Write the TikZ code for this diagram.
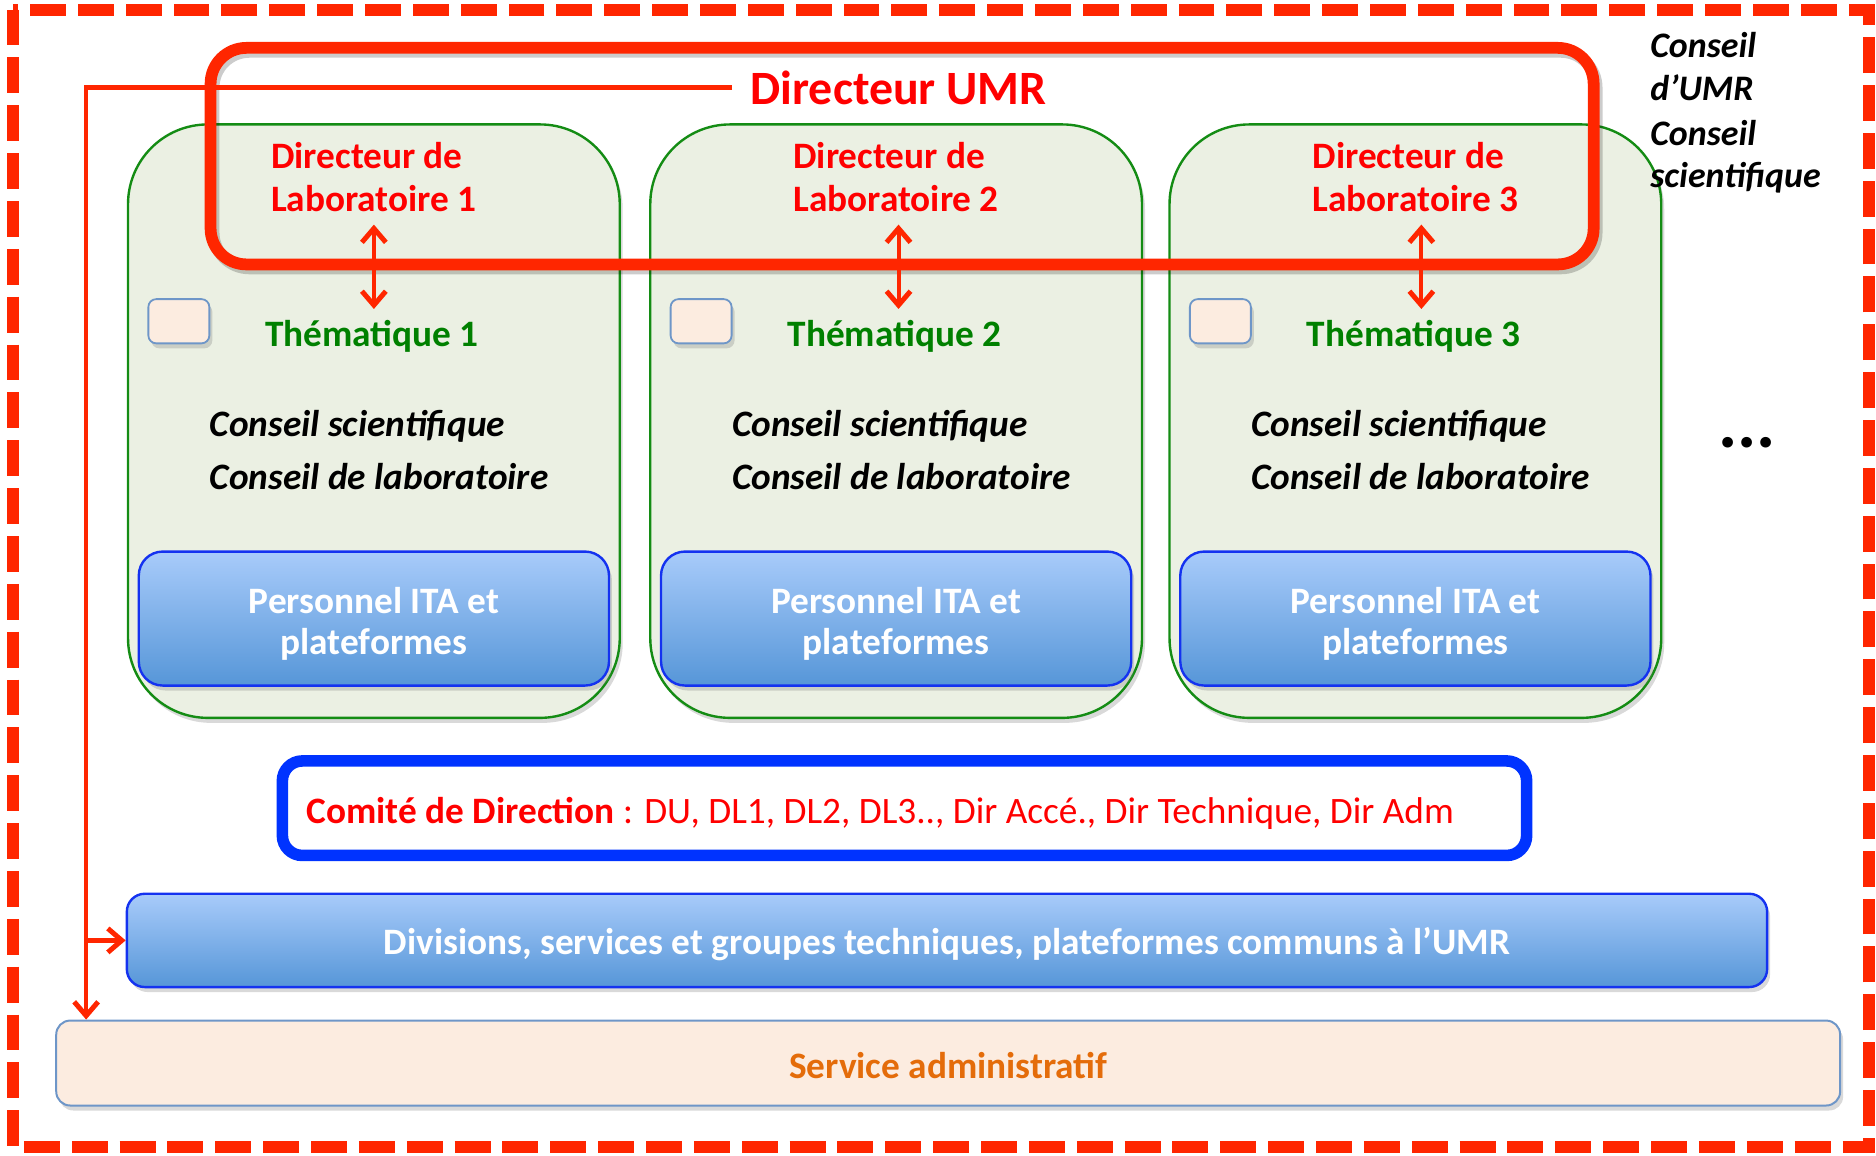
\documentclass[tikz,border=0pt]{standalone}
\usepackage{fontspec}
\setmainfont{Carlito}
\usetikzlibrary{arrows.meta,shadows}
\definecolor{dred}{RGB}{255,38,0}
\definecolor{tred}{RGB}{255,0,0}
\definecolor{tgreen}{RGB}{0,128,0}
\definecolor{gborder}{RGB}{20,140,20}
\definecolor{gfill}{RGB}{235,240,227}
\definecolor{btop}{RGB}{168,203,250}
\definecolor{bbot}{RGB}{86,150,216}
\definecolor{bborder}{RGB}{20,50,240}
\definecolor{cblue}{RGB}{0,51,255}
\definecolor{peach}{RGB}{252,236,224}
\definecolor{pborder}{RGB}{110,150,200}
\definecolor{orangetxt}{RGB}{228,108,10}
\tikzset{
  shad/.style={drop shadow={shadow xshift=1.5pt,shadow yshift=-2.5pt,opacity=0.3}},
  mainfont/.style={font=\bfseries\fontsize{18.7}{22}\selectfont},
  labbox/.style={draw=gborder,line width=1.2pt,fill=gfill,rounded corners=40pt,
    minimum width=246.6pt,minimum height=297.6pt,shad},
  smallsq/.style={draw=pborder,line width=0.9pt,fill=peach,rounded corners=4pt,
    minimum width=30.6pt,minimum height=22.2pt,shad},
  bluebox/.style={draw=bborder,line width=1.2pt,top color=btop,bottom color=bbot,
    text=white,mainfont,align=center,shad},
  itabox/.style={bluebox,rounded corners=12pt,minimum width=235.8pt,minimum height=67.2pt},
  itatext/.style={text=white,font=\bfseries\fontsize{18.7}{20.6}\selectfont,align=center,inner sep=0pt},
  ldir/.style={text=tred,mainfont,align=left,inner sep=0pt},
  them/.style={text=tgreen,mainfont,inner sep=0pt},
  conseil/.style={font=\bfseries\itshape\fontsize{18.7}{22}\selectfont,inner sep=0pt,anchor=base west},
  sideconseil/.style={font=\bfseries\itshape\fontsize{18}{22}\selectfont,inner sep=0pt,anchor=base west},
  dbl/.style={dred,line width=2pt,
    {Straight Barb[length=7pt,width=12pt,line width=2.5pt]}-{Straight Barb[length=7pt,width=12pt,line width=2.5pt]}},
  thinarr/.style={dred,line width=2.2pt,-{Straight Barb[length=7pt,width=12pt,line width=2.5pt]}},
}
\begin{document}
\begin{tikzpicture}[x=0.6pt,y=-0.6pt]
\useasboundingbox (0,0) rectangle (1568,966);
% outer dashed frame
\draw[dred,line width=6pt,dash pattern=on 18pt off 6pt] (11,8) rectangle (1562,959);

% laboratories
\foreach \i/\x in {1/312.5,2/749,3/1183} {
  \node[labbox] (lab\i) at (\x,352) {};
  \node[smallsq] (sq\i) at (\x-163,268.5) {};
  \node[itabox] (ita\i) at (\x,517) {};
  \node[itatext] (itat\i) at ([yshift=-2.6pt]ita\i.center) {Personnel ITA et\\plateformes};
  \node[ldir] (ld\i) at (\x,148) {Directeur de\\Laboratoire \i};
  \node[them,anchor=base] (th\i) at (\x-1.5,290) {Thématique \i};
  \node[conseil] (cs\i) at (\x-137.5,365) {Conseil scientifique};
  \node[conseil] (cl\i) at (\x-137.5,409) {Conseil de laboratoire};
}

% UMR director frame
\node[draw=dred,line width=5.9pt,rounded corners=18pt,minimum width=693.6pt,minimum height=108.6pt,
  preaction={draw=black,opacity=0.2,transform canvas={xshift=1.5pt,yshift=-2pt}}] (umr) at (754,130.5) {};
\node[text=tred,font=\bfseries\fontsize{24}{28}\selectfont,anchor=base west,inner xsep=9pt,inner ysep=0pt] (dumr) at (612,87) {Directeur UMR};

% double arrows between lab directors and themes
\foreach \i/\dx in {1/0pt,2/1.2pt,3/3pt} {
  \coordinate (aa\i) at ([xshift=\dx,yshift=-6pt]ld\i.south);
  \path (aa\i |- th\i.north) coordinate (bb\i);
  \draw[dbl] (aa\i) -- ([yshift=5.7pt]bb\i);
}

% side text
\node[sideconseil] (sc1) at (1379,48) {Conseil};
\node[sideconseil] (sc2) at (1379,84) {d’UMR};
\node[sideconseil] (sc3) at (1379,122) {Conseil};
\node[sideconseil] (sc4) at (1379,157) {scientifique};
\node[font=\bfseries\fontsize{36}{40}\selectfont,inner sep=0pt] (dots) at (1460,370) {...};

% comite de direction
\node[draw=cblue,line width=5.8pt,fill=white,rounded corners=10pt,minimum width=624pt,minimum height=47.4pt,shad] (cdir) at (756,675.5) {};
\node[anchor=base west,inner sep=0pt,text=tred,font=\fontsize{18.7}{22}\selectfont] (cdirt) at (256,688)
  {\textbf{Comité de Direction} : DU, DL1, DL2, DL3.., Dir Accé., Dir Technique, Dir Adm};

% divisions
\node[bluebox,rounded corners=9pt,minimum width=822.6pt,minimum height=46.8pt,text height=14.4pt,text depth=0pt] (div) at (791.5,786)
  {Divisions, services et groupes techniques, plateformes communs à l’UMR};

% service administratif
\node[draw=pborder,line width=1pt,fill=peach,rounded corners=7pt,minimum width=894.6pt,minimum height=42.6pt,
  text=orangetxt,mainfont,text height=15pt,text depth=0pt,shad] (svc) at (792.5,888.5) {Service administratif};

% connectors from the UMR director
\coordinate (turn) at (72,73);
\draw[thinarr] (dumr.west) -| (svc.north -| turn);
\draw[thinarr] (div.west -| turn) -- (div.west);
\end{tikzpicture}
\end{document}
